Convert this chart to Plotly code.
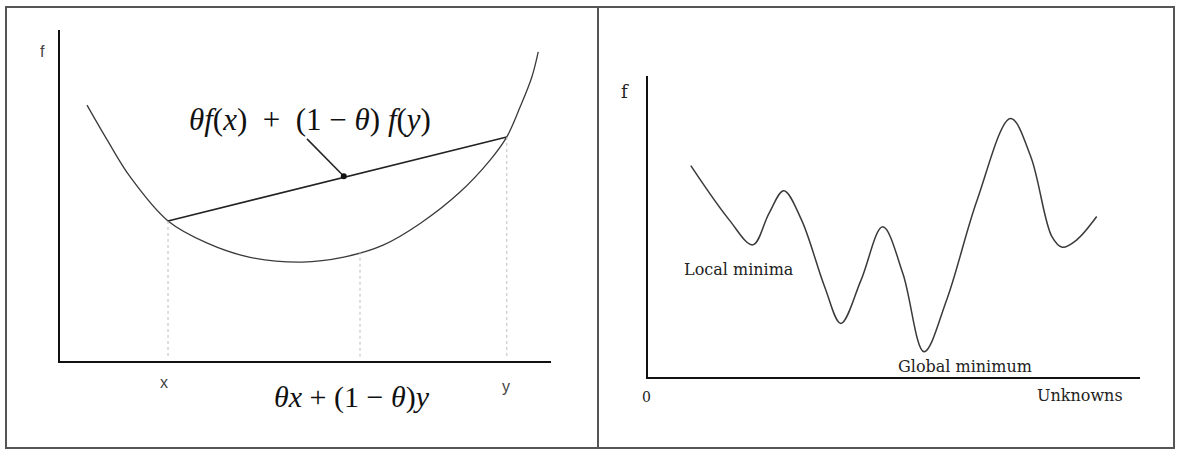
import plotly.graph_objects as go

W, H = 1179, 452

# ---------------- Left panel data (convexity) ----------------
convex_x = [0.55, 0.96, 1.43, 2.2, 3.0, 3.85, 4.93, 5.78, 6.58, 7.35, 8.13, 8.76, 9.1, 9.37, 9.61, 9.74]
convex_y = [7.73, 6.68, 5.56, 4.23, 3.56, 3.14, 2.99, 3.14, 3.5, 4.17, 5.08, 6.07, 6.77, 7.67, 8.58, 9.34]
chord_x = [2.2, 9.1]
chord_y = [4.23, 6.77]
dot_x, dot_y = 5.78, 5.58
arrow_tail = (5.03, 6.71)
mid_x, mid_top = 6.11, 3.3
drop_bottom = 0.1

# ---------------- Right panel data (local / global minima) ----------------
wave_x = [0.87, 1.65, 2.13, 2.46, 2.76, 3.12, 3.59, 3.92, 4.33, 4.77, 5.18, 5.61, 6.07, 6.69, 7.37, 7.78, 8.21, 8.42, 8.71, 9.12]
wave_y = [7.02, 5.22, 4.39, 5.44, 6.19, 5.22, 3.0, 1.78, 3.22, 4.99, 3.44, 0.84, 2.56, 5.88, 8.59, 7.32, 4.66, 4.31, 4.55, 5.33]


def px_x(p):
    return p / W


def px_y(p):
    return 1 - p / H


fig = go.Figure()

# Left panel traces
fig.add_trace(go.Scatter(x=convex_x, y=convex_y, mode="lines",
                         line=dict(color="#3a3a3a", width=1.3, shape="spline", smoothing=1.0),
                         xaxis="x", yaxis="y", hoverinfo="skip"))
fig.add_trace(go.Scatter(x=chord_x, y=chord_y, mode="lines",
                         line=dict(color="#222222", width=1.6),
                         xaxis="x", yaxis="y", hoverinfo="skip"))
for (xx, y0) in [(chord_x[0], chord_y[0]), (mid_x, mid_top), (chord_x[1], chord_y[1])]:
    fig.add_trace(go.Scatter(x=[xx, xx], y=[y0, drop_bottom], mode="lines",
                             line=dict(color="#bdbdbd", width=1, dash="dot"),
                             xaxis="x", yaxis="y", hoverinfo="skip"))
fig.add_trace(go.Scatter(x=[arrow_tail[0], dot_x], y=[arrow_tail[1], dot_y], mode="lines",
                         line=dict(color="#222222", width=1.5),
                         xaxis="x", yaxis="y", hoverinfo="skip"))
fig.add_trace(go.Scatter(x=[dot_x], y=[dot_y], mode="markers",
                         marker=dict(color="#111111", size=6),
                         xaxis="x", yaxis="y", hoverinfo="skip"))

# Right panel trace
fig.add_trace(go.Scatter(x=wave_x, y=wave_y, mode="lines",
                         line=dict(color="#3a3a3a", width=1.5, shape="spline", smoothing=1.0),
                         xaxis="x2", yaxis="y2", hoverinfo="skip"))

axis_common = dict(showgrid=False, zeroline=False, showticklabels=False, ticks="",
                   showline=True, linecolor="#111111", linewidth=2, range=[0, 10], fixedrange=True)

serif = "Liberation Serif"
slab = "DejaVu Serif"
sans = "Liberation Sans"
SP = "&nbsp;"


def lab(px, py, text, family, size, color="#222222"):
    return dict(x=px_x(px), y=px_y(py), xref="paper", yref="paper", showarrow=False,
                text=text, font=dict(family=family, size=size, color=color),
                xanchor="center", yanchor="middle")


PLUS = SP + SP + "+" + SP + SP
MINUS = SP + "−" + SP

annotations = [
    # Left panel
    lab(310, 120, "<i>θf</i>(<i>x</i>)" + PLUS + "(1" + MINUS + "<i>θ</i>)" + SP + "<i>f</i>(<i>y</i>)",
        serif, 31, "#111111"),
    lab(352, 397, "<i>θx</i>" + SP + "+" + SP + "(1" + MINUS + "<i>θ</i>)<i>y</i>",
        serif, 30, "#111111"),
    lab(164, 382, "x", sans, 16, "#444444"),
    lab(506, 386, "y", sans, 16, "#444444"),
    lab(42, 52, "f", sans, 16, "#444444"),
    # Right panel
    lab(625, 92, "f", slab, 18),
    lab(646, 397, "0", slab, 14),
    lab(739, 269, "Local minima", slab, 16),
    lab(965, 366, "Global minimum", slab, 16),
    lab(1080, 395, "Unknowns", slab, 16),
]

shapes = [
    dict(type="rect", xref="paper", yref="paper",
         x0=px_x(6), x1=px_x(1174), y0=px_y(448), y1=px_y(7),
         line=dict(color="#555555", width=2)),
    dict(type="line", xref="paper", yref="paper",
         x0=px_x(598), x1=px_x(598), y0=px_y(448), y1=px_y(7),
         line=dict(color="#555555", width=2)),
]

fig.update_layout(
    width=W, height=H,
    margin=dict(l=0, r=0, t=0, b=0),
    paper_bgcolor="white", plot_bgcolor="rgba(0,0,0,0)",
    showlegend=False,
    xaxis=dict(domain=[px_x(60), px_x(551)], anchor="y", **axis_common),
    yaxis=dict(domain=[px_y(361), px_y(30)], anchor="x", **axis_common),
    xaxis2=dict(domain=[px_x(648), px_x(1140)], anchor="y2", **axis_common),
    yaxis2=dict(domain=[px_y(377), px_y(76)], anchor="x2", **axis_common),
    annotations=annotations,
    shapes=shapes,
)

fig.write_html("out.html", config={"displayModeBar": False},
               post_script="document.body.style.margin='0';document.body.style.overflow='hidden';")
